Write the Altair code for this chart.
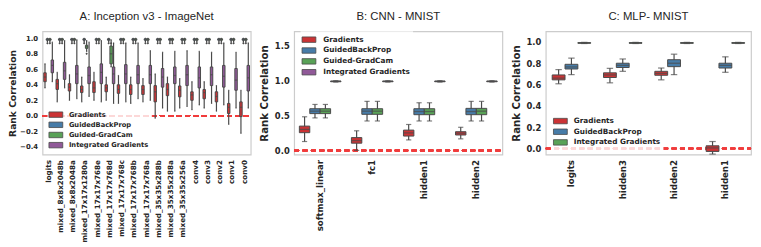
import altair as alt
import pandas as pd

# ---------------- Panel A: Inception v3 - ImageNet ----------------
a_layers = ["logits", "mixed_8x8x2048b", "mixed_8x8x2048a", "mixed_17x17x1280a",
            "mixed_17x17x768e", "mixed_17x17x768d", "mixed_17x17x768c", "mixed_17x17x768b",
            "mixed_17x17x768a", "mixed_35x35x288b", "mixed_35x35x288a", "mixed_35x35x256a",
            "conv4", "conv3", "conv2", "conv1", "conv0"]
a_methods = ["Gradients", "GuidedBackProp", "Guided-GradCam", "Integrated Gradients"]
# (whisker low, q1, median, q3, whisker high)
a_grad = [(0.36, 0.44, 0.50, 0.555, 0.67), (0.18, 0.34, 0.415, 0.47, 0.56),
          (0.20, 0.32, 0.37, 0.415, 0.53), (0.18, 0.30, 0.34, 0.385, 0.50),
          (0.20, 0.30, 0.36, 0.44, 0.56), (0.20, 0.31, 0.36, 0.40, 0.50),
          (0.16, 0.29, 0.34, 0.40, 0.52), (0.16, 0.275, 0.34, 0.40, 0.50),
          (0.18, 0.275, 0.34, 0.39, 0.48), (-0.03, 0.18, 0.31, 0.39, 0.54),
          (0.06, 0.26, 0.34, 0.415, 0.50), (0.10, 0.245, 0.33, 0.385, 0.48),
          (0.08, 0.20, 0.27, 0.31, 0.44), (0.10, 0.22, 0.30, 0.34, 0.44),
          (0.06, 0.18, 0.25, 0.31, 0.39), (-0.11, 0.03, 0.11, 0.16, 0.33),
          (-0.225, -0.01, 0.11, 0.18, 0.33)]
a_gbp = [(0.95, 0.975, 0.985, 0.993, 1.0)] * 17
a_ggc = [(0.95, 0.975, 0.985, 0.993, 1.0), (0.95, 0.975, 0.985, 0.993, 1.0),
         (0.95, 0.975, 0.985, 0.993, 1.0), (0.83, 0.87, 0.89, 0.91, 0.97),
         (0.95, 0.975, 0.985, 0.993, 1.0), (0.63, 0.67, 0.80, 0.90, 0.98),
         (0.95, 0.975, 0.985, 0.993, 1.0), (0.95, 0.975, 0.985, 0.993, 1.0),
         (0.95, 0.975, 0.985, 0.993, 1.0), (0.95, 0.975, 0.985, 0.993, 1.0),
         (0.95, 0.975, 0.985, 0.993, 1.0), (0.95, 0.975, 0.985, 0.993, 1.0),
         (0.95, 0.975, 0.985, 0.993, 1.0), (0.95, 0.975, 0.985, 0.993, 1.0),
         (0.95, 0.975, 0.985, 0.993, 1.0), (0.95, 0.975, 0.985, 0.993, 1.0),
         (0.95, 0.975, 0.985, 0.993, 1.0)]
a_ig = [(0.44, 0.555, 0.65, 0.72, 0.95), (0.36, 0.47, 0.58, 0.69, 0.97),
        (0.22, 0.415, 0.54, 0.65, 0.98), (0.25, 0.415, 0.52, 0.63, 0.95),
        (0.18, 0.415, 0.56, 0.67, 0.97), (0.16, 0.415, 0.54, 0.63, 0.94),
        (0.18, 0.415, 0.54, 0.66, 0.94), (0.22, 0.415, 0.53, 0.65, 0.94),
        (0.20, 0.415, 0.53, 0.65, 0.84), (0.10, 0.37, 0.50, 0.61, 0.82),
        (0.06, 0.415, 0.52, 0.63, 0.83), (0.12, 0.39, 0.53, 0.65, 0.84),
        (0.14, 0.36, 0.49, 0.63, 0.83), (0.16, 0.39, 0.53, 0.63, 0.82),
        (0.14, 0.37, 0.51, 0.65, 0.94), (0.10, 0.33, 0.46, 0.61, 0.82),
        (0.10, 0.32, 0.49, 0.65, 0.94)]
a_gbp_outliers = [0.935] * 17
a_ggc_outliers = [0.935, 0.935, 0.935, 0.80, 0.935, 0.935, 0.935, 0.935, 0.935,
                  0.935, 0.935, 0.935, 0.935, 0.935, 0.935, 0.935, 0.935]

# ---------------- Panel B: CNN - MNIST ----------------
b_layers = ["softmax_linear", "fc1", "hidden1", "hidden2"]
b_methods = ["Gradients", "GuidedBackProp", "Guided-GradCam", "Integrated Gradients"]
b_grad = [(0.127, 0.253, 0.30, 0.347, 0.48), (0.0, 0.103, 0.14, 0.183, 0.28),
          (0.15, 0.205, 0.25, 0.29, 0.37), (0.165, 0.22, 0.245, 0.267, 0.33)]
b_gbp = [(0.464, 0.525, 0.56, 0.595, 0.656), (0.42, 0.515, 0.56, 0.595, 0.70),
         (0.42, 0.51, 0.555, 0.595, 0.68), (0.42, 0.51, 0.555, 0.60, 0.70)]
b_ggc = [(0.464, 0.525, 0.56, 0.595, 0.656), (0.42, 0.515, 0.56, 0.595, 0.70),
         (0.42, 0.51, 0.555, 0.595, 0.68), (0.42, 0.51, 0.56, 0.60, 0.70)]
b_ig = [(0.975, 0.98, 0.985, 0.99, 0.995)] * 4

# ---------------- Panel C: MLP- MNIST ----------------
c_layers = ["logits", "hidden3", "hidden2", "hidden1"]
c_methods = ["Gradients", "GuidedBackProp", "Integrated Gradients"]
c_grad = [(0.607, 0.644, 0.66, 0.69, 0.74), (0.616, 0.666, 0.69, 0.71, 0.752),
          (0.644, 0.687, 0.705, 0.724, 0.755), (-0.053, -0.028, 0.005, 0.025, 0.065)]
c_gbp = [(0.693, 0.746, 0.765, 0.79, 0.848), (0.724, 0.76, 0.78, 0.80, 0.84),
         (0.693, 0.768, 0.80, 0.833, 0.885), (0.715, 0.755, 0.78, 0.80, 0.86)]
c_ig = [(0.985, 0.988, 0.99, 0.993, 0.996)] * 4

RED, BLUE, GREEN, PURPLE = "#cb3335", "#477ca8", "#59a257", "#905998"
GRAY = "#4a4a4a"
TXT = "#262626"
SYMBOL = "M-1.4,-0.55H1.4V0.55H-1.4Z"


def slot_key(layer, method):
    return layer + "|" + method


def slot_domain(layers, methods):
    dom = []
    for i, layer in enumerate(layers):
        dom += [slot_key(layer, m) for m in methods]
        if i < len(layers) - 1:
            dom.append(slot_key(layer, "~gap"))
    return dom


def make_df(layers, methods, stats):
    rows = []
    for m, s in zip(methods, stats):
        for layer, (lo, q1, med, q3, hi) in zip(layers, s):
            rows.append(dict(slot=slot_key(layer, m), layer=layer, method=m,
                             lo=lo, q1=q1, med=med, q3=q3, hi=hi))
    return pd.DataFrame(rows)


def make_outliers(layers, methods, outs):
    rows = []
    for m, o in zip(methods, outs):
        for layer, v in zip(layers, o):
            rows.append(dict(slot=slot_key(layer, m), method=m, v=v))
    return pd.DataFrame(rows)


def panel(df, layers, methods, colors, title, ydomain, yvalues, width,
          xlab, ylab, ytitle, ytitlepad, leg, outliers=None):
    dom = slot_domain(layers, methods)
    nslots = len(dom) + 1
    slotw = width / nslots
    label_method = methods[1]
    label_off = slotw / 2 if len(methods) % 2 == 0 else 0
    xenc = alt.X("slot:N",
                 scale=alt.Scale(domain=dom, paddingInner=0, paddingOuter=0.5),
                 axis=alt.Axis(title=None, values=[slot_key(l, label_method) for l in layers],
                               labelExpr="split(datum.label, '|')[0]",
                               labelOffset=label_off,
                               labelAngle=-90, labelFont="DejaVu Sans",
                               labelFontWeight="bold", labelFontSize=xlab, labelColor=TXT,
                               labelPadding=5, domain=False, ticks=False, grid=False,
                               labelLimit=0, labelOverlap=False))
    ys = alt.Scale(domain=ydomain, nice=False, zero=False)
    yaxis = alt.Axis(title="Rank Correlation", titleFont="DejaVu Sans", titleFontWeight="bold",
                     titleFontSize=ytitle, titleColor=TXT, titlePadding=ytitlepad,
                     values=yvalues, format=".1f", labelFont="DejaVu Sans",
                     labelFontWeight="bold", labelFontSize=ylab, labelColor=TXT,
                     labelPadding=5, domain=False, ticks=False, grid=False,
                     labelOverlap=False, labelBound=False)
    base = alt.Chart(df).encode(x=xenc)

    zero = base.mark_rule(color="#f03c3c", strokeDash=[5, 3.5], strokeWidth=1.5).encode(
        x=alt.value(0), x2=alt.value(width), y=alt.datum(0, scale=ys, axis=yaxis))
    whisk = base.mark_rule(color=GRAY, strokeWidth=1.2).encode(
        y=alt.Y("lo:Q", axis=yaxis), y2="hi:Q")
    cap_lo = base.mark_tick(color=GRAY, thickness=1.2, size=slotw / 2).encode(
        y=alt.Y("lo:Q", axis=yaxis))
    cap_hi = base.mark_tick(color=GRAY, thickness=1.2, size=slotw / 2).encode(
        y=alt.Y("hi:Q", axis=yaxis))
    box = base.mark_bar(stroke=GRAY, strokeWidth=1.0).encode(
        y=alt.Y("q1:Q", axis=yaxis), y2="q3:Q",
        color=alt.Color("method:N", sort=methods,
                        scale=alt.Scale(domain=methods, range=colors),
                        legend=alt.Legend(title=None, orient="none", legendX=leg["x"],
                                          legendY=leg["y"], symbolType=SYMBOL, symbolSize=100,
                                          symbolStrokeColor=GRAY, symbolStrokeWidth=0.8,
                                          symbolOpacity=1, labelFont="DejaVu Sans",
                                          labelFontWeight="bold", labelFontSize=leg["font"],
                                          labelColor=TXT, labelOffset=leg["off"],
                                          rowPadding=leg["rowpad"], padding=3,
                                          fillColor="rgba(255,255,255,0.8)")))
    med = base.mark_tick(color=GRAY, thickness=1.3, size=slotw).encode(
        y=alt.Y("med:Q", axis=yaxis))
    layers_list = [zero, whisk, cap_lo, cap_hi, box, med]
    if outliers is not None:
        pts = alt.Chart(outliers).mark_point(shape="diamond", filled=True, color=GRAY,
                                             size=6, opacity=1).encode(
            x=xenc, y=alt.Y("v:Q", axis=yaxis))
        layers_list.append(pts)
    return alt.layer(*layers_list).properties(
        width=width, height=125,
        title=alt.TitleParams(title, font="Liberation Sans", fontSize=11.5,
                              fontWeight="normal", color=TXT, offset=9, anchor="middle"))


dfa = make_df(a_layers, a_methods, [a_grad, a_gbp, a_ggc, a_ig])
outa = make_outliers(a_layers, ["GuidedBackProp", "Guided-GradCam"],
                     [a_gbp_outliers, a_ggc_outliers])
dfb = make_df(b_layers, b_methods, [b_grad, b_gbp, b_ggc, b_ig])
dfc = make_df(c_layers, c_methods, [c_grad, c_gbp, c_ig])

pa = panel(dfa, a_layers, a_methods, [RED, BLUE, GREEN, PURPLE], "A: Inception v3 - ImageNet",
           [-0.5, 1.09], [-0.4, -0.2, 0.0, 0.2, 0.4, 0.6, 0.8, 1.0], 211,
           7.3, 7, 9.3, 2, dict(x=5, y=76, font=6.8, off=7.7, rowpad=0.3), outliers=outa)
pb = panel(dfb, b_layers, b_methods, [RED, BLUE, GREEN, PURPLE], "B: CNN - MNIST",
           [-0.06, 1.70], [0.0, 0.5, 1.0, 1.5], 211,
           8.7, 8.5, 10.3, 5, dict(x=6.5, y=0, font=7.4, off=9, rowpad=1.0))
pc = panel(dfc, c_layers, c_methods, [RED, BLUE, GREEN], "C: MLP- MNIST",
           [-0.058, 1.10], [0.0, 0.2, 0.4, 0.6, 0.8, 1.0], 208,
           8.7, 8.5, 10.3, 5, dict(x=6.3, y=82.5, font=7.4, off=8, rowpad=0.8))

chart = alt.hconcat(pa, pb, pc, spacing=44, bounds="flush").resolve_scale(
    color="independent", x="independent", y="independent"
).resolve_legend(color="independent").properties(
    padding={"left": 0, "top": 0, "right": 0, "bottom": 0}
).configure_view(stroke="#cccccc", strokeWidth=1.2).configure_axis(labelOverlap=False)

chart.save("out.html", embed_options={"renderer": "svg", "actions": False})
